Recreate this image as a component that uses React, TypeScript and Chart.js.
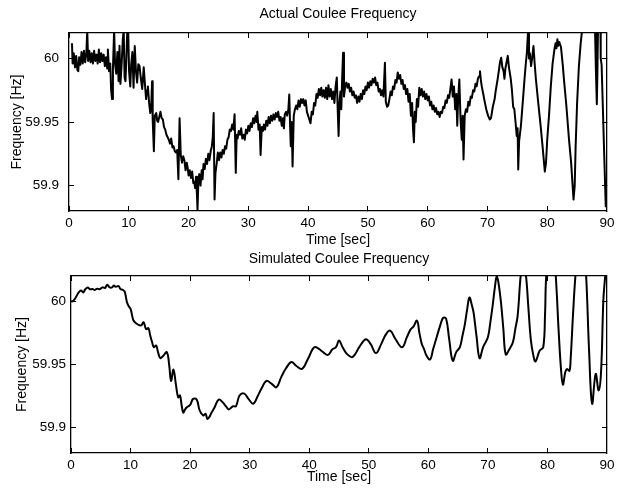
import React, { useEffect, useRef } from "react";
import { Chart, registerables } from "chart.js";

Chart.register(...registerables);

// ---------- data ----------
const xTickValues = [0, 10, 20, 30, 40, 50, 60, 70, 80, 90];
const yTickValues = [59.9, 59.95, 60];
const yMin = 59.88;
const yMax = 60.02;
const xMin = 0;
const xMax = 90;

const actualTitle = "Actual Coulee Frequency";
const simulatedTitle = "Simulated Coulee Frequency";
const xAxisTitle = "Time [sec]";
const yAxisTitle = "Frequency [Hz]";

// [time (s), frequency (Hz)]
const actualSeries: [number, number][] = [
  [0.5, 60.012], [0.6, 59.996], [0.8, 60.004], [1.0, 59.993], [1.2, 60.002], [1.4, 59.991], [1.55, 59.99], [1.7, 60.001], [1.9, 59.995], [2.1, 60.005],
  [2.3, 59.996], [2.5, 60.006], [2.7, 59.997], [2.9, 60.004], [3.05, 60.022], [3.2, 59.998], [3.4, 60.006], [3.6, 59.997], [3.8, 60.004], [4.0, 59.996],
  [4.2, 60.006], [4.4, 59.998], [4.6, 60.003], [4.8, 59.996], [5.0, 60.007], [5.2, 59.997], [5.4, 60.004], [5.6, 59.998], [5.8, 60.003], [6.0, 59.994],
  [6.2, 60.001], [6.4, 59.992], [6.5, 60.007], [6.7, 59.99], [6.9, 59.996], [7.05, 59.975], [7.2, 59.968], [7.35, 59.992], [7.55, 60.022], [7.7, 59.996],
  [7.9, 59.988], [8.1, 60.005], [8.3, 59.982], [8.45, 60.01], [8.6, 59.98], [8.8, 59.995], [9.0, 60.015], [9.15, 60.022], [9.3, 59.985], [9.45, 59.982],
  [9.6, 60.0], [9.75, 60.022], [9.9, 60.022], [10.05, 59.99], [10.25, 59.978], [10.4, 59.995], [10.6, 60.005], [10.8, 59.977], [11.0, 60.0097], [11.2, 59.99],
  [11.4, 59.981], [11.6, 59.9955], [11.8, 59.994], [12.0, 59.985], [12.25, 59.976], [12.5, 59.993], [12.7, 59.98], [12.9, 59.968], [13.05, 59.975], [13.2, 59.978],
  [13.4, 59.965], [13.6, 59.957], [13.75, 59.962], [13.9, 59.982], [14.0, 59.952], [14.2, 59.927], [14.35, 59.955], [14.6, 59.957], [14.75, 59.951], [14.9, 59.95],
  [15.1, 59.954], [15.3, 59.958], [15.5, 59.953], [15.7, 59.952], [15.9, 59.946], [16.1, 59.944], [16.3, 59.94], [16.5, 59.938], [16.7, 59.936], [16.9, 59.933],
  [17.1, 59.937], [17.3, 59.93], [17.5, 59.931], [17.7, 59.927], [17.9, 59.926], [18.1, 59.928], [18.3, 59.905], [18.5, 59.953], [18.7, 59.924], [18.9, 59.918],
  [19.1, 59.923], [19.3, 59.92], [19.5, 59.912], [19.7, 59.918], [19.85, 59.914], [20.0, 59.908], [20.2, 59.912], [20.4, 59.906], [20.6, 59.911], [20.8, 59.902],
  [20.95, 59.903], [21.1, 59.898], [21.25, 59.907], [21.4, 59.893], [21.5, 59.881], [21.65, 59.905], [21.8, 59.909], [22.0, 59.9], [22.2, 59.912], [22.35, 59.905],
  [22.5, 59.917], [22.7, 59.913], [22.9, 59.921], [23.1, 59.917], [23.3, 59.925], [23.5, 59.92], [23.7, 59.927], [23.9, 59.931], [24.05, 59.938], [24.2, 59.957],
  [24.35, 59.889], [24.5, 59.91], [24.7, 59.917], [24.9, 59.926], [25.1, 59.92], [25.3, 59.926], [25.5, 59.922], [25.7, 59.928], [25.9, 59.925], [26.1, 59.931],
  [26.3, 59.929], [26.5, 59.936], [26.7, 59.938], [26.9, 59.944], [27.1, 59.943], [27.3, 59.948], [27.5, 59.944], [27.7, 59.956], [27.9, 59.91], [28.05, 59.94],
  [28.2, 59.937], [28.4, 59.943], [28.6, 59.94], [28.8, 59.945], [29.0, 59.937], [29.2, 59.94], [29.4, 59.936], [29.6, 59.944], [29.8, 59.941], [30.0, 59.947],
  [30.2, 59.943], [30.4, 59.949], [30.6, 59.946], [30.8, 59.953], [31.0, 59.949], [31.2, 59.955], [31.4, 59.95], [31.5, 59.958], [31.7, 59.944], [31.9, 59.948],
  [32.05, 59.924], [32.25, 59.946], [32.45, 59.943], [32.6, 59.948], [32.8, 59.944], [33.0, 59.951], [33.2, 59.947], [33.4, 59.954], [33.6, 59.949], [33.8, 59.955],
  [34.0, 59.951], [34.2, 59.956], [34.4, 59.952], [34.6, 59.957], [34.8, 59.954], [35.0, 59.958], [35.2, 59.951], [35.4, 59.954], [35.6, 59.947], [35.8, 59.953],
  [35.95, 59.945], [36.1, 59.956], [36.3, 59.958], [36.5, 59.955], [36.7, 59.96], [36.85, 59.9717], [37.0, 59.945], [37.1, 59.931], [37.25, 59.95], [37.4, 59.915],
  [37.6, 59.955], [37.8, 59.96], [38.0, 59.963], [38.2, 59.96], [38.4, 59.967], [38.6, 59.962], [38.8, 59.968], [39.0, 59.965], [39.2, 59.968], [39.4, 59.963],
  [39.6, 59.967], [39.8, 59.958], [40.0, 59.955], [40.2, 59.952], [40.4, 59.949], [40.6, 59.958], [40.8, 59.956], [41.0, 59.965], [41.2, 59.963], [41.4, 59.972],
  [41.6, 59.969], [41.8, 59.976], [42.0, 59.971], [42.2, 59.977], [42.4, 59.97], [42.6, 59.975], [42.8, 59.969], [43.0, 59.977], [43.2, 59.968], [43.4, 59.979],
  [43.6, 59.97], [43.8, 59.976], [44.0, 59.968], [44.2, 59.974], [44.4, 59.965], [44.6, 59.978], [44.8, 59.985], [44.95, 59.96], [45.1, 59.939], [45.25, 59.965],
  [45.4, 59.974], [45.55, 59.96], [45.7, 59.985], [45.85, 60.0045], [46.0, 59.97], [46.2, 59.978], [46.4, 59.981], [46.6, 59.977], [46.8, 59.98], [47.0, 59.974],
  [47.2, 59.977], [47.4, 59.971], [47.6, 59.974], [47.8, 59.969], [48.0, 59.971], [48.2, 59.965], [48.4, 59.97], [48.6, 59.966], [48.8, 59.972], [49.0, 59.968],
  [49.2, 59.975], [49.4, 59.972], [49.6, 59.978], [49.8, 59.975], [50.0, 59.981], [50.2, 59.977], [50.4, 59.982], [50.6, 59.979], [50.8, 59.984], [51.0, 59.981],
  [51.2, 59.985], [51.4, 59.979], [51.6, 59.981], [51.8, 59.974], [52.0, 59.976], [52.2, 59.971], [52.4, 59.975], [52.6, 59.97], [52.85, 59.9966], [53.0, 59.966],
  [53.2, 59.962], [53.4, 59.963], [53.6, 59.968], [53.8, 59.974], [54.0, 59.971], [54.2, 59.978], [54.4, 59.976], [54.6, 59.983], [54.8, 59.981], [55.0, 59.989],
  [55.2, 59.984], [55.4, 59.987], [55.6, 59.98], [55.8, 59.983], [56.0, 59.976], [56.2, 59.979], [56.4, 59.972], [56.6, 59.976], [56.8, 59.966], [57.0, 59.972],
  [57.2, 59.955], [57.4, 59.965], [57.55, 59.945], [57.7, 59.934], [57.85, 59.958], [58.0, 59.95], [58.2, 59.968], [58.4, 59.962], [58.6, 59.977], [58.8, 59.971],
  [59.0, 59.976], [59.2, 59.97], [59.4, 59.974], [59.6, 59.968], [59.8, 59.972], [60.0, 59.967], [60.2, 59.97], [60.4, 59.963], [60.6, 59.966], [60.8, 59.96],
  [61.0, 59.963], [61.2, 59.958], [61.4, 59.961], [61.6, 59.956], [61.8, 59.958], [62.0, 59.954], [62.2, 59.958], [62.4, 59.957], [62.6, 59.962], [62.8, 59.961],
  [63.0, 59.967], [63.2, 59.965], [63.4, 59.971], [63.6, 59.969], [63.8, 59.976], [64.0, 59.9835], [64.2, 59.97], [64.4, 59.978], [64.6, 59.96], [64.8, 59.972],
  [64.95, 59.947], [65.1, 59.968], [65.3, 59.9835], [65.5, 59.952], [65.7, 59.936], [65.85, 59.955], [66.0, 59.9205], [66.2, 59.955], [66.4, 59.96], [66.6, 59.958],
  [66.8, 59.966], [67.0, 59.963], [67.2, 59.97], [67.4, 59.969], [67.6, 59.975], [67.8, 59.974], [68.0, 59.98], [68.2, 59.978], [68.4, 59.984], [68.6, 59.986],
  [68.75, 59.99], [68.9, 59.983], [69.05, 59.978], [69.3, 59.972], [69.5, 59.967], [69.8, 59.96], [70.1, 59.955], [70.4, 59.952], [70.6, 59.953], [70.9, 59.962],
  [71.2, 59.968], [71.4, 59.975], [71.7, 59.9835], [71.9, 59.99], [72.1, 59.997], [72.3, 60.0005], [72.5, 59.993], [72.7, 59.99], [72.85, 59.984], [73.0, 59.992],
  [73.2, 59.997], [73.4, 60.002], [73.6, 59.993], [73.9, 59.984], [74.1, 59.975], [74.3, 59.962], [74.5, 59.96], [74.7, 59.95], [74.9, 59.939], [75.05, 59.945],
  [75.15, 59.9126], [75.3, 59.935], [75.6, 59.947], [75.9, 59.965], [76.2, 59.9835], [76.4, 59.995], [76.6, 60.0045], [76.8, 60.022], [76.95, 60.0], [77.1, 60.004],
  [77.3, 59.994], [77.5, 60.001], [77.7, 60.0097], [77.9, 59.996], [78.1, 59.984], [78.5, 59.965], [78.9, 59.947], [79.2, 59.932], [79.6, 59.911], [79.8, 59.918],
  [80.0, 59.936], [80.3, 59.955], [80.6, 59.978], [80.9, 59.996], [81.2, 60.007], [81.4, 60.012], [81.55, 60.008], [81.7, 60.015], [81.85, 60.01], [82.0, 60.013],
  [82.3, 60.009], [82.6, 59.995], [82.8, 59.9835], [83.2, 59.963], [83.65, 59.936], [84.0, 59.918], [84.4, 59.889], [84.6, 59.9], [84.75, 59.93], [85.0, 59.965],
  [85.3, 59.994], [85.6, 60.012], [85.9, 60.025], [86.3, 60.035], [86.7, 60.04], [87.2, 60.04], [87.7, 60.032], [88.0, 60.022], [88.15, 59.99], [88.3, 59.964],
  [88.4, 59.99], [88.5, 60.025], [88.75, 60.03], [88.9, 60.03], [88.95, 60.0], [89.1, 59.995], [89.5, 59.93], [89.8, 59.883],
];

// [time (s), frequency (Hz)]
const simulatedSeries: [number, number][] = [
  [0.0, 60.0], [0.3, 60.0], [0.8, 60.003], [1.3, 60.007], [1.7, 60.0085], [2.05, 60.007], [2.4, 60.0095], [2.8, 60.011], [3.2, 60.0095], [3.6, 60.0097],
  [4.0, 60.009], [4.4, 60.01], [4.8, 60.0095], [5.3, 60.011], [5.7, 60.0105], [6.1, 60.013], [6.5, 60.011], [6.9, 60.011], [7.2, 60.0125], [7.5, 60.0115],
  [8.0, 60.012], [8.3, 60.0097], [8.7, 60.009], [9.0, 60.0077], [9.2, 60.004], [9.4, 59.9992], [9.7, 59.996], [10.0, 59.994], [10.3, 59.988], [10.5, 59.9847],
  [11.1, 59.982], [11.5, 59.981], [11.8, 59.981], [12.2, 59.9834], [12.6, 59.978], [13.0, 59.9787], [13.3, 59.973], [13.6, 59.968], [13.9, 59.9637], [14.3, 59.965],
  [14.6, 59.96], [15.0, 59.955], [15.5, 59.957], [16.1, 59.9597], [16.5, 59.949], [16.8, 59.937], [17.2, 59.946], [17.6, 59.9347], [18.0, 59.924], [18.3, 59.9255],
  [18.6, 59.917], [18.85, 59.912], [19.1, 59.914], [19.4, 59.916], [20.0, 59.918], [20.5, 59.9228], [21.1, 59.9223], [21.6, 59.9137], [22.2, 59.9097], [22.6, 59.911],
  [22.9, 59.907], [23.3, 59.909], [23.6, 59.912], [24.1, 59.916], [24.8, 59.9223], [25.5, 59.92], [26.0, 59.917], [26.5, 59.9145], [27.2, 59.917], [27.7, 59.917],
  [28.3, 59.9255], [29.1, 59.927], [29.8, 59.9228], [30.6, 59.919], [31.4, 59.9255], [32.1, 59.932], [32.8, 59.937], [33.7, 59.9347], [34.5, 59.932], [35.3, 59.94],
  [36.1, 59.947], [37.0, 59.952], [37.8, 59.949], [38.8, 59.9465], [39.8, 59.9545], [40.9, 59.9637], [42.0, 59.961], [43.1, 59.9576], [43.9, 59.962], [44.5, 59.9637],
  [45.0, 59.969], [45.6, 59.9637], [46.4, 59.958], [47.3, 59.956], [48.4, 59.9637], [49.5, 59.97], [50.3, 59.9663], [51.2, 59.959], [52.1, 59.9663], [52.9, 59.974],
  [53.6, 59.9768], [54.5, 59.97], [55.6, 59.9637], [56.4, 59.9716], [57.0, 59.9776], [57.5, 59.98], [58.1, 59.9847], [58.5, 59.975], [58.9, 59.9663], [59.3, 59.962],
  [59.7, 59.957], [60.3, 59.954], [60.8, 59.962], [61.4, 59.9716], [62.0, 59.981], [62.5, 59.987], [63.0, 59.986], [63.5, 59.97], [64.1, 59.953], [64.7, 59.96],
  [65.3, 59.9637], [65.7, 59.972], [66.1, 59.981], [66.5, 59.993], [66.9, 60.003], [67.3, 59.997], [67.6, 59.991], [68.1, 59.972], [68.6, 59.955], [69.2, 59.9637],
  [70.0, 59.9716], [70.4, 59.983], [70.8, 59.9966], [71.2, 60.012], [71.5, 60.02], [71.8, 60.014], [72.2, 59.9992], [72.6, 59.978], [73.0, 59.958], [73.6, 59.962],
  [74.2, 59.9676], [74.6, 59.978], [75.0, 59.9887], [75.5, 60.02], [75.9, 60.033], [76.4, 60.02], [76.8, 59.995], [77.2, 59.97], [77.6, 59.958], [78.0, 59.9524],
  [78.7, 59.961], [79.3, 59.9637], [79.6, 59.99], [79.8, 60.02], [80.4, 60.045], [81.0, 60.04], [81.4, 60.02], [81.9, 59.975], [82.3, 59.945], [82.6, 59.934],
  [83.0, 59.944], [83.3, 59.9465], [83.7, 59.945], [83.9, 59.9545], [84.3, 59.99], [84.7, 60.02], [85.4, 60.055], [86.0, 60.05], [86.5, 60.02], [87.0, 59.96],
  [87.5, 59.919], [88.1, 59.9426], [88.6, 59.9295], [89.0, 59.944], [89.4, 60.002], [89.7, 60.02], [90.0, 60.04],
];

// ---------- chart ----------
const FONT = "'Liberation Sans', Arial, Helvetica, sans-serif";
const W = 624;

type Layout = {
  canvasTop: number;
  canvasH: number;
  left: number;   // chart area left (canvas coords)
  top: number;    // chart area top
  right: number;  // chart area right
  bottom: number; // chart area bottom
  titlePadTop: number;
  yTitlePad: number;
  xTitlePadBottom: number;
  yTickPad: number;
};

function makeConfig(title: string, series: [number, number][], L: Layout, lineWidth: number, tension: number): any {
  const tickFont = { family: FONT, size: 13.5 };
  const textFont = { family: FONT, size: 14 };
  const gridOpts = { drawOnChartArea: false, drawTicks: true, tickLength: -5, color: "#000", lineWidth: 1 };
  const borderOpts = { display: true, color: "#000", width: 1.3 };
  const setX = (s: any) => { s.ticks = xTickValues.map((v) => ({ value: v })); };
  const setY = (s: any) => { s.ticks = yTickValues.map((v) => ({ value: v })); };
  return {
    type: "line",
    data: {
      datasets: [
        {
          data: series.map(([t, f]) => ({ x: t, y: f })),
          borderColor: "#000",
          borderWidth: lineWidth,
          pointRadius: 0,
          tension,
          borderJoinStyle: "round",
          fill: false,
        },
      ],
    },
    options: {
      responsive: false,
      animation: false,
      devicePixelRatio: 1,
      layout: { padding: { left: 0, right: W - L.right, top: 0, bottom: 0 } },
      plugins: {
        legend: { display: false },
        tooltip: { enabled: false },
        title: {
          display: true,
          text: title,
          color: "#000",
          font: { ...textFont, weight: "normal" },
          fullSize: false,
          padding: { top: L.titlePadTop, bottom: L.top - L.titlePadTop - 16.8 },
        },
      },
      scales: {
        x: {
          type: "linear",
          position: "bottom",
          min: xMin,
          max: xMax,
          afterBuildTicks: setX,
          afterFit: (s: any) => { s.height = L.canvasH - L.bottom; },
          ticks: { font: tickFont, color: "#000", padding: 9.5, maxRotation: 0, autoSkip: false, callback: (v: any) => String(v) },
          grid: gridOpts,
          border: borderOpts,
          title: { display: true, text: xAxisTitle, color: "#000", font: textFont, padding: { top: 0, bottom: L.xTitlePadBottom } },
        },
        x2: {
          type: "linear",
          position: "top",
          min: xMin,
          max: xMax,
          afterBuildTicks: setX,
          afterFit: (s: any) => { s.height = 0; },
          ticks: { display: false },
          grid: gridOpts,
          border: borderOpts,
        },
        y: {
          type: "linear",
          position: "left",
          min: yMin,
          max: yMax,
          afterBuildTicks: setY,
          afterFit: (s: any) => { s.width = L.left; },
          ticks: { font: tickFont, color: "#000", padding: L.yTickPad, callback: (v: any) => String(+Number(v).toFixed(2)) },
          grid: gridOpts,
          border: borderOpts,
          title: { display: true, text: yAxisTitle, color: "#000", font: textFont, padding: { top: L.yTitlePad, bottom: 0 } },
        },
        y2: {
          type: "linear",
          position: "right",
          min: yMin,
          max: yMax,
          afterBuildTicks: setY,
          afterFit: (s: any) => { s.width = 0; },
          ticks: { display: false },
          grid: gridOpts,
          border: borderOpts,
        },
      },
    },
  };
}

const topLayout: Layout = {
  canvasTop: 0, canvasH: 252,
  left: 69, top: 33, right: 610, bottom: 211,
  titlePadTop: 6, yTitlePad: 9, xTitlePadBottom: 3.6, yTickPad: 15,
};
const bottomLayout: Layout = {
  canvasTop: 240, canvasH: 248,
  left: 71, top: 36, right: 612, bottom: 213,
  titlePadTop: 11, yTitlePad: 13.6, xTitlePadBottom: 2.8, yTickPad: 10,
};

function Panel(props: { title: string; series: [number, number][]; L: Layout; lineWidth: number; tension: number }) {
  const ref = useRef<HTMLCanvasElement | null>(null);
  useEffect(() => {
    if (!ref.current) return;
    const chart = new Chart(ref.current, makeConfig(props.title, props.series, props.L, props.lineWidth, props.tension));
    return () => chart.destroy();
  }, []);
  return (
    <canvas
      ref={ref}
      width={W}
      height={props.L.canvasH}
      style={{ position: "absolute", left: 0, top: props.L.canvasTop, width: W, height: props.L.canvasH }}
    />
  );
}

export default function App() {
  return (
    <div style={{ position: "absolute", left: 0, top: 0, width: W, height: 488, background: "#fff" }}>
      <Panel title={actualTitle} series={actualSeries} L={topLayout} lineWidth={2} tension={0} />
      <Panel title={simulatedTitle} series={simulatedSeries} L={bottomLayout} lineWidth={2} tension={0.4} />
    </div>
  );
}
